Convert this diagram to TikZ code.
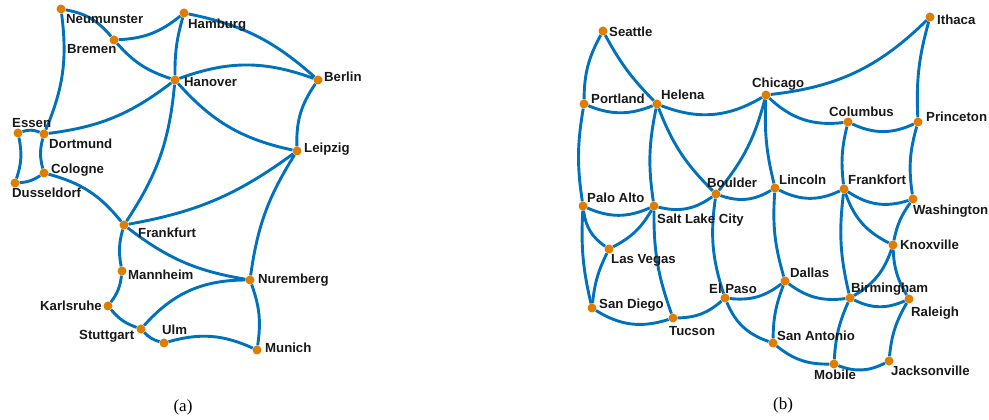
\documentclass[tikz,border=0pt]{standalone}
\usepackage{fontspec}
\newfontfamily\labfont{Liberation Sans}
\newfontfamily\capfont{Liberation Serif}
\definecolor{edgeblue}{RGB}{0,114,189}
\definecolor{nodeorange}{RGB}{222,125,0}
\pgfdeclarelayer{bg}
\pgfsetlayers{bg,main}
\tikzset{
  city/.style={circle,fill=nodeorange,inner sep=0pt,minimum size=9pt},
  lbl/.style={inner sep=0pt,text height=9.5pt,text depth=0pt,font=\labfont\fontsize{13.2}{15}\selectfont\bfseries,text=black!90},
  rd/.style={draw=edgeblue,line width=2.9pt},
  capt/.style={inner sep=0pt,font=\capfont\fontsize{17}{19}\selectfont}
}
\newcommand\ct[3]{\node[city] (#1) at (#2,420-#3) {};}
\begin{document}
\begin{tikzpicture}[x=1pt,y=1pt]
\useasboundingbox (0,0) rectangle (989,420);
% ---------- (a) nodes
\ct{neu}{61}{9}
\ct{bre}{114}{40}
\ct{ham}{184}{13}
\ct{han}{175}{80}
\ct{ber}{318}{80}
\ct{lei}{297}{151}
\ct{ess}{18}{133}
\ct{dor}{44}{134}
\ct{col}{44}{173}
\ct{dus}{15}{183}
\ct{fra}{124}{225}
\ct{man}{122}{271}
\ct{kar}{108}{306}
\ct{stu}{141}{329}
\ct{ulm}{164}{343}
\ct{mun}{257}{350}
\ct{nur}{250}{280}
% ---------- (b) nodes
\ct{sea}{603}{31}
\ct{por}{584}{104}
\ct{hel}{657}{104}
\ct{chi}{766}{95}
\ct{ith}{930}{17}
\ct{clb}{848}{122}
\ct{pri}{918}{122}
\ct{bou}{716}{194}
\ct{lin}{775}{188}
\ct{frt}{844}{189}
\ct{was}{913}{199}
\ct{pal}{583}{206}
\ct{slc}{654}{206}
\ct{lv}{609}{249}
\ct{sd}{592}{308}
\ct{tuc}{673}{318}
\ct{elp}{725}{298}
\ct{dal}{785}{281}
\ct{sa}{773}{343}
\ct{mob}{834}{364}
\ct{jac}{889}{361}
\ct{bir}{850}{298}
\ct{ral}{909}{299}
\ct{kno}{893}{245}
% ---------- edges
\begin{pgfonlayer}{bg}
\path[fill=white] (0,0) rectangle (989,420);
% (a)
\draw[rd] (neu) to[bend left=20] (bre);
\draw[rd] (neu) to[bend left=15] (dor);
\draw[rd] (bre) to[bend right=18] (ham);
\draw[rd] (bre) to[bend right=15] (han);
\draw[rd] (ham) to[bend right=8] (han);
\draw[rd] (ham) to[bend left=15] (ber);
\draw[rd] (han) to[bend left=20] (ber);
\draw[rd] (han) to[bend right=18] (lei);
\draw[rd] (han) to[bend left=15] (dor);
\draw[rd] (han) to[bend left=14] (fra);
\draw[rd] (ber) to[bend right=18] (lei);
\draw[rd] (lei) to[bend left=13] (fra);
\draw[rd] (lei) to[bend right=12] (nur);
\draw[rd] (ess) to[bend left=20] (dor);
\draw[rd] (ess) to[bend left=15] (dus);
\draw[rd] (dor) to[bend right=15] (col);
\draw[rd] (col) to[bend left=15] (dus);
\draw[rd] (col) to[bend left=18] (fra);
\draw[rd] (fra) to[bend right=13] (man);
\draw[rd] (fra) to[bend right=14] (nur);
\draw[rd] (man) to[bend left=15] (kar);
\draw[rd] (kar) to[bend right=15] (stu);
\draw[rd] (stu) to[bend right=15] (ulm);
\draw[rd] (stu) to[bend left=24] (nur);
\draw[rd] (ulm) to[bend left=20] (mun);
\draw[rd] (nur) to[bend left=14] (mun);
% (b)
\draw[rd] (sea) to[bend right=14] (por);
\draw[rd] (sea) to[bend right=8] (hel);
\draw[rd] (por) to[bend right=22] (hel);
\draw[rd] (por) to[bend right=9] (pal);
\draw[rd] (hel) to[bend right=26] (chi);
\draw[rd] (hel) to[bend right=10] (slc);
\draw[rd] (hel) to[bend right=12] (bou);
\draw[rd] (chi) to[bend right=19] (ith);
\draw[rd] (chi) to[bend right=25] (clb);
\draw[rd] (chi) to[bend left=12] (bou);
\draw[rd] (chi) to[bend right=8] (lin);
\draw[rd] (clb) to[bend right=25] (pri);
\draw[rd] (clb) to[bend right=10] (frt);
\draw[rd] (ith) to[bend right=9] (pri);
\draw[rd] (pri) to[bend right=12] (was);
\draw[rd] (bou) to[bend right=25] (lin);
\draw[rd] (bou) to[bend left=25] (slc);
\draw[rd] (bou) to[bend right=13] (elp);
\draw[rd] (lin) to[bend right=26] (frt);
\draw[rd] (lin) to[bend right=10] (dal);
\draw[rd] (frt) to[bend right=26] (was);
\draw[rd] (frt) to[bend right=22] (kno);
\draw[rd] (frt) to[bend right=10] (bir);
\draw[rd] (was) to[bend right=12] (kno);
\draw[rd] (kno) to[bend left=20] (bir);
\draw[rd] (kno) to[bend right=14] (ral);
\draw[rd] (pal) to[bend right=24] (slc);
\draw[rd] (pal) to[bend right=24] (lv);
\draw[rd] (pal) to[bend right=8] (sd);
\draw[rd] (slc) to[bend left=16] (lv);
\draw[rd] (slc) to[bend right=10] (tuc);
\draw[rd] (lv) to[bend right=10] (sd);
\draw[rd] (sd) to[bend right=25] (tuc);
\draw[rd] (tuc) to[bend right=20] (elp);
\draw[rd] (elp) to[bend right=22] (dal);
\draw[rd] (elp) to[bend right=24] (sa);
\draw[rd] (dal) to[bend right=10] (sa);
\draw[rd] (dal) to[bend right=22] (bir);
\draw[rd] (bir) to[bend right=25] (ral);
\draw[rd] (bir) to[bend right=10] (mob);
\draw[rd] (sa) to[bend right=20] (mob);
\draw[rd] (mob) to[bend right=24] (jac);
\draw[rd] (ral) to[bend right=12] (jac);
\end{pgfonlayer}
% ---------- (a) labels
\node[lbl,anchor=west] (lneu) at (66,420-19) {Neumunster};
\node[lbl,anchor=west] (lbre) at (67,420-49) {Bremen};
\node[lbl,anchor=west] (lham) at (188,420-24) {Hamburg};
\node[lbl,anchor=west] (lhan) at (184,420-82) {Hanover};
\node[lbl,anchor=west] (lber) at (324,420-77) {Berlin};
\node[lbl,anchor=west] (llei) at (304,420-148) {Leipzig};
\node[lbl,anchor=west] (less) at (12,420-123) {Essen};
\node[lbl,anchor=west] (ldor) at (49,420-144) {Dortmund};
\node[lbl,anchor=west] (lcol) at (51,420-169) {Cologne};
\node[lbl,anchor=west] (ldus) at (12,420-193) {Dusseldorf};
\node[lbl,anchor=west] (lfra) at (138,420-233) {Frankfurt};
\node[lbl,anchor=west] (lman) at (128,420-275) {Mannheim};
\node[lbl,anchor=east] (lkar) at (102,420-306) {Karlsruhe};
\node[lbl,anchor=west] (lstu) at (79,420-335) {Stuttgart};
\node[lbl,anchor=west] (lulm) at (162,420-330) {Ulm};
\node[lbl,anchor=west] (lmun) at (265,420-348) {Munich};
\node[lbl,anchor=west] (lnur) at (258,420-279) {Nuremberg};
% ---------- (b) labels
\node[lbl,anchor=west] (lsea) at (609,420-32) {Seattle};
\node[lbl,anchor=west] (lpor) at (591,420-99) {Portland};
\node[lbl,anchor=west] (lhel) at (661,420-95) {Helena};
\node[lbl,anchor=west] (lchi) at (752,420-83) {Chicago};
\node[lbl,anchor=west] (lith) at (937,420-20) {Ithaca};
\node[lbl,anchor=west] (lclb) at (829,420-112) {Columbus};
\node[lbl,anchor=west] (lpri) at (926,420-117) {Princeton};
\node[lbl,anchor=west] (lbou) at (707,420-183) {Boulder};
\node[lbl,anchor=west] (llin) at (779,420-180) {Lincoln};
\node[lbl,anchor=west] (lfrt) at (848,420-180) {Frankfort};
\node[lbl,anchor=west] (lwas) at (913,420-210) {Washington};
\node[lbl,anchor=west] (lpal) at (587,420-198) {Palo Alto};
\node[lbl,anchor=west] (lslc) at (657,420-219) {Salt Lake City};
\node[lbl,anchor=west] (llv) at (611,420-259) {Las Vegas};
\node[lbl,anchor=west] (lsd) at (599,420-304) {San Diego};
\node[lbl,anchor=west] (ltuc) at (669,420-331) {Tucson};
\node[lbl,anchor=west] (lelp) at (709,420-289) {El Paso};
\node[lbl,anchor=west] (ldal) at (790,420-273) {Dallas};
\node[lbl,anchor=west] (lsa) at (777,420-336) {San Antonio};
\node[lbl,anchor=west] (lmob) at (814,420-375) {Mobile};
\node[lbl,anchor=west] (ljac) at (891,420-371) {Jacksonville};
\node[lbl,anchor=west] (lbir) at (851,420-288) {Birmingham};
\node[lbl,anchor=west] (lral) at (911,420-312) {Raleigh};
\node[lbl,anchor=west] (lkno) at (900,420-245) {Knoxville};
% ---------- captions
\node[capt] (capa) at (183,420-407) {(a)};
\node[capt] (capb) at (783,420-405) {(b)};
\end{tikzpicture}
\end{document}
